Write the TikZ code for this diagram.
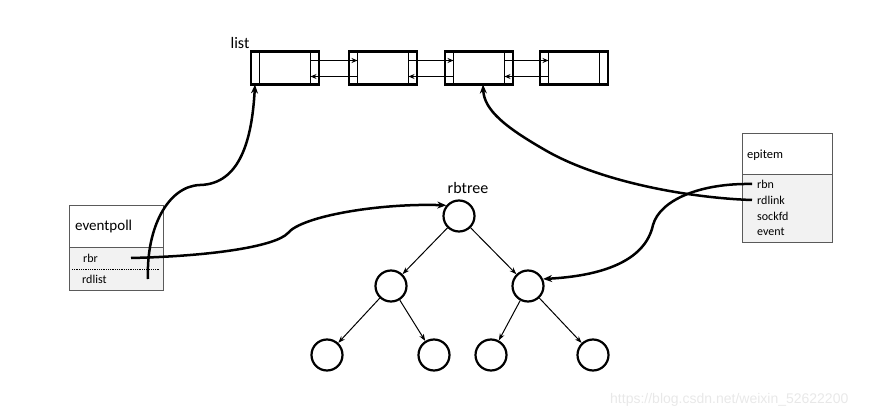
\documentclass[tikz,border=0pt]{standalone}
\usepackage{fontspec}
\setmainfont{Carlito}
\newfontfamily\wmfont{Liberation Sans}
\usetikzlibrary{arrows.meta}
\definecolor{fieldgray}{RGB}{242,242,242}
\definecolor{boxgray}{RGB}{90,90,90}
\definecolor{wmgray}{RGB}{232,232,232}
\begin{document}
\begin{tikzpicture}[x=1pt,y=-1pt,
  listbox/.style={draw, line width=2.8pt, minimum width=68pt, minimum height=33pt, inner sep=0pt, outer sep=0pt},
  innerbar/.style={line width=1.8pt},
  link/.style={line width=1.6pt, -{Stealth[length=6pt,width=5pt]}},
  tnode/.style={draw, circle, line width=2.2pt, minimum size=31pt, inner sep=0pt},
  tedge/.style={line width=1pt, -{Stealth[length=7pt,width=5pt]}},
  curve/.style={line width=2.5pt, -{Stealth[length=9pt,width=7pt]}},
  structbox/.style={draw=boxgray, line width=0.8pt},
  lbl/.style={inner sep=0pt, anchor=west}
]
\useasboundingbox (0,0) rectangle (889,417);

% linked list
\node[listbox] (L1) at (285,68) {};
\node[listbox] (L2) at (383,68) {};
\node[listbox] (L3) at (479,68) {};
\node[listbox] (L4) at (574,68) {};
\foreach \n in {L1,L2,L3,L4}{
  \draw[innerbar] ([xshift=8.5pt]\n.north west) -- ([xshift=8.5pt]\n.south west);
  \draw[innerbar] ([xshift=-8.5pt]\n.north east) -- ([xshift=-8.5pt]\n.south east);
}
\foreach \a/\b in {L1/L2,L2/L3,L3/L4}{
  \draw[link] ([shift={(-8.5,-7.5)}]\a.east) -- ([shift={(8.5,-7.5)}]\b.west);
  \draw[link] ([shift={(8.5,8.5)}]\b.west) -- ([shift={(-8.5,8.5)}]\a.east);
}
\node[font=\fontsize{16}{18}\selectfont, inner sep=0pt] (listlbl) at (240,43) {list};

% eventpoll
\node[structbox, minimum width=94pt, minimum height=42pt, anchor=north west, inner sep=0pt] (EPh) at (69,205) {};
\node[structbox, fill=fieldgray, minimum width=94pt, minimum height=43pt, anchor=north west, inner sep=0pt] (EPf) at (69,247) {};
\node[lbl, font=\fontsize{15}{17}\selectfont] (eptitle) at (75,227) {eventpoll};
\node[lbl, font=\fontsize{12}{14}\selectfont] (rbrlbl) at (83,258) {rbr};
\node[lbl, font=\fontsize{12}{14}\selectfont] (rdlistlbl) at (82,279) {rdlist};
\draw[densely dotted, line width=0.8pt] ([xshift=3pt]EPf.west) coordinate (dl1) -- ([xshift=-5pt]EPf.east) coordinate (dl2);

% epitem
\node[structbox, minimum width=90pt, minimum height=41pt, anchor=north west, inner sep=0pt] (EIh) at (742,133) {};
\node[structbox, fill=fieldgray, minimum width=90pt, minimum height=68pt, anchor=north west, inner sep=0pt] (EIf) at (742,174) {};
\node[lbl, font=\fontsize{12.5}{14}\selectfont] (eititle) at (747,155) {epitem};
\node[lbl, font=\fontsize{12}{14}\selectfont] (rbnlbl) at (757,184) {rbn};
\node[lbl, font=\fontsize{12}{14}\selectfont] (rdlinklbl) at (757,200) {rdlink};
\node[lbl, font=\fontsize{12}{14}\selectfont] (sockfdlbl) at (757,216) {sockfd};
\node[lbl, font=\fontsize{12}{14}\selectfont] (eventlbl) at (757,232) {event};

% rbtree
\node[tnode] (R) at (459,216) {};
\node[font=\fontsize{16}{18}\selectfont, inner sep=0pt] (treelbl) at (468,188) {rbtree};
\node[tnode] (A) at (391,286) {};
\node[tnode] (B) at (528,286) {};
\node[tnode] (A1) at (327,355) {};
\node[tnode] (A2) at (434,355) {};
\node[tnode] (B1) at (491,355) {};
\node[tnode] (B2) at (593,355) {};
\draw[tedge] (R) -- (A);
\draw[tedge] (R) -- (B);
\draw[tedge] (A) -- (A1);
\draw[tedge] (A) -- (A2);
\draw[tedge] (B) -- (B1);
\draw[tedge] (B) -- (B2);

% pointers
\coordinate (rdlistend) at (148,279);
\coordinate (rbrend) at (131,258);
\coordinate (rbnend) at (752,184);
\coordinate (rdlinkend) at (752,200);
\draw[curve] (rdlistend) .. controls (146,228) and (168,186) .. (200,185)
  .. controls (240,184) and (252,140) .. ([xshift=4pt]L1.south west);
\draw[curve] (rbrend) .. controls (215,256) and (276,246) .. (288,233)
  .. controls (302,216) and (380,203) .. (R.140);
\draw[curve] (rdlinkend) .. controls (690,198) and (600,182) .. (545,150)
  .. controls (505,127) and (484,110) .. ([xshift=4pt]L3.south);
\draw[curve] (rbnend) .. controls (700,183) and (660,200) .. (653,225)
  .. controls (645,262) and (600,276) .. (B.25);

% watermark
\node[lbl, font=\wmfont\fontsize{14}{16}\selectfont, text=wmgray] (wm) at (610,400) {https://blog.csdn.net/weixin\_52622200};
\end{tikzpicture}
\end{document}
